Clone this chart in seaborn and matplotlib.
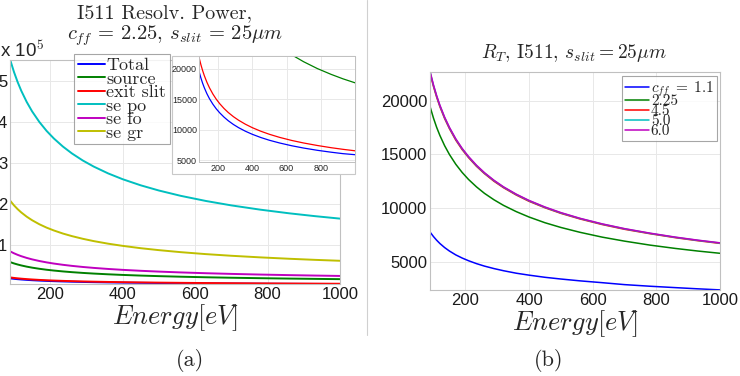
import numpy as np
import pandas as pd
import seaborn as sns
import matplotlib.pyplot as plt
from matplotlib.patches import Rectangle
from matplotlib.lines import Line2D

# Energy grid (eV) the curves were read at
energy = [90, 100, 110, 120, 135, 150, 170, 190, 210, 235, 260, 290, 320, 360, 400, 450, 500, 560, 630, 700, 780, 860, 930, 1000]

# (a) resolving power contributions, c_ff = 2.25
total     = [19500, 18500, 17640, 16890, 15920, 15100, 14190, 13420, 12770, 12070, 11470, 10860, 10340, 9750, 9250, 8720, 8270, 7820, 7370, 6990, 6620, 6310, 6070, 5900]
source    = [59000, 55970, 53370, 51090, 48170, 45700, 42930, 40600, 38630, 36520, 34710, 32870, 31290, 29500, 27980, 26380, 25030, 23650, 22300, 21160, 20040, 19090, 18350, 17700]
exit_slit = [21800, 20680, 19720, 18880, 17800, 16890, 15860, 15000, 14270, 13490, 12820, 12140, 11560, 10900, 10340, 9750, 9250, 8740, 8240, 7820, 7410, 7050, 6780, 6540]
se_po     = [550000, 521800, 497500, 476300, 449100, 426000, 400200, 378500, 360100, 340400, 323600, 306400, 291700, 275000, 260900, 246000, 233400, 220500, 207900, 197200, 186800, 177900, 171100, 165000]
se_fo     = [85000, 80640, 76880, 73610, 69400, 65840, 61850, 58500, 55650, 52610, 50010, 47350, 45080, 42500, 40320, 38010, 36070, 34080, 32130, 30480, 28870, 27500, 26440, 25500]
se_gr     = [208000, 197300, 188100, 180100, 169800, 161100, 151300, 143100, 136200, 128700, 122400, 115900, 110300, 104000, 98700, 93000, 88300, 83400, 78600, 74600, 70700, 67300, 64700, 62400]

# (b) total resolving power for several c_ff
r_11  = [7750, 7360, 7020, 6720, 6340, 6020, 5660, 5370, 5120, 4850, 4620, 4390, 4190, 3960, 3780, 3580, 3420, 3250, 3080, 2900, 2750, 2620, 2510, 2410]
r_225 = [19350, 18360, 17500, 16760, 15800, 14990, 14080, 13320, 12670, 11980, 11380, 10780, 10260, 9680, 9180, 8650, 8210, 7760, 7310, 6940, 6570, 6260, 6020, 5810]
r_45  = [22440, 21290, 20300, 19430, 18320, 17390, 16320, 15440, 14700, 13890, 13210, 12500, 11900, 11220, 10640, 10040, 9520, 9000, 8480, 8040, 7630, 7260, 6980, 6730]
r_50  = [22550, 21390, 20390, 19520, 18400, 17460, 16400, 15510, 14760, 13950, 13260, 12560, 11950, 11270, 10690, 10080, 9560, 9040, 8520, 8080, 7660, 7290, 7010, 6760]
r_60  = [22600, 21440, 20440, 19570, 18450, 17510, 16440, 15550, 14800, 13990, 13300, 12590, 11980, 11300, 10720, 10110, 9590, 9060, 8540, 8100, 7680, 7310, 7030, 6780]

labels_a = ["Total", "source", "exit slit", "se po", "se fo", "se gr"]
labels_b = [r"$c_{ff}\;=\;1.1$", "2.25", "4.5", "5.0", "6.0"]
cols = ["#0000ff", "#008000", "#ff0000", "#00bfbf", "#bf00bf", "#bfbf00"]

sns.set_style("whitegrid")
plt.rcParams["font.family"] = ["Liberation Sans", "DejaVu Sans"]
plt.rcParams["mathtext.fontset"] = "cm"
plt.rcParams["axes.edgecolor"] = "#c0c0c0"
plt.rcParams["grid.color"] = "#e8e8e8"
plt.rcParams["grid.linewidth"] = 0.7
CM = "cmr10"

fig = plt.figure(figsize=(7.4, 3.76), dpi=100)

def style(ax, size):
    ax.tick_params(direction="in", length=3, color="#a0a0a0", labelsize=size, pad=2, labelcolor="#1a1a1a")
    for s in ax.spines.values():
        s.set_linewidth(0.8)

# ---- (a) ----
ax1 = fig.add_axes([10/740, 1-284/376, 330/740, 224/376])
series_a = [total, source, exit_slit, se_po, se_fo, se_gr]
for vals, lab, c in zip(series_a, labels_a, cols):
    sns.lineplot(x=energy, y=np.array(vals)/1e5, color=c, lw=1.4, ax=ax1, label=lab)
ax1.set_xlim(89, 1000)
ax1.set_ylim(0.059, 5.51)
ax1.set_xticks([200, 400, 600, 800, 1000])
ax1.set_yticks([1, 2, 3, 4, 5])
style(ax1, 12)
ax1.set_xlabel(r"$Energy[eV]$", fontsize=19, labelpad=0)
ax1.legend_.remove()
leg = fig.legend(ax1.get_lines(), labels_a, loc="upper left", bbox_to_anchor=(74/740, 1-54/376),
                 prop={"family": CM, "size": 13}, handlelength=1.5, handletextpad=0.1,
                 labelspacing=-0.12, borderpad=0.2, borderaxespad=0, frameon=True, fancybox=False)
leg.get_frame().set_edgecolor("#909090")
leg.get_frame().set_linewidth(0.8)
fig.text(0, 1-57/376, r"x 10$^5$", fontsize=13.5, ha="left", va="baseline")
fig.text(165/740, 1-13/376, "I511 Resolv. Power,", family=CM, fontsize=14.5, ha="center", va="center")
fig.text(175/740, 1-36/376, r"$c_{ff}\,=\,2.25$, $s_{slit}\,=\,25\mu m$", family=CM, fontsize=14.8, ha="center", va="center")

# inset
fig.patches.append(Rectangle((172/740, 1-174/376), 183/740, 118/376, transform=fig.transFigure,
                             facecolor="white", edgecolor="#c8c8c8", lw=0.8, zorder=1))
axi = fig.add_axes([199/740, 1-162/376, 156/740, 106/376], zorder=2)
for vals, c in zip([total, source, exit_slit], cols[:3]):
    sns.lineplot(x=energy, y=vals, color=c, lw=0.9, ax=axi)
axi.set_xlim(89, 1000)
axi.set_ylim(4700, 22100)
axi.set_xticks([200, 400, 600, 800])
axi.set_yticks([5000, 10000, 15000, 20000])
axi.tick_params(direction="in", length=2, color="#a0a0a0", labelsize=6.5, pad=1.5)
for s in axi.spines.values():
    s.set_linewidth(0.7)

# ---- (b) ----
ax2 = fig.add_axes([430/740, 1-290/376, 290/740, 218/376])
series_b = [r_11, r_225, r_45, r_50, r_60]
for vals, lab, c in zip(series_b, labels_b, cols[:5]):
    sns.lineplot(x=energy, y=vals, color=c, lw=1.1, ax=ax2, label=lab)
ax2.set_xlim(89, 1000)
ax2.set_ylim(2400, 22650)
ax2.set_xticks([200, 400, 600, 800, 1000])
ax2.set_yticks([5000, 10000, 15000, 20000])
style(ax2, 12)
ax2.set_xlabel(r"$Energy[eV]$", fontsize=19, labelpad=0)
ax2.legend_.remove()
leg2 = ax2.legend(ax2.get_lines(), labels_b, loc="upper right", bbox_to_anchor=(717/740, 1-76/376),
                  bbox_transform=fig.transFigure, prop={"family": CM, "size": 11}, handlelength=1.6,
                  handletextpad=0.1, labelspacing=-0.25, borderpad=0.2, borderaxespad=0,
                  frameon=True, fancybox=False)
leg2.get_frame().set_edgecolor("#909090")
leg2.get_frame().set_linewidth(0.8)
fig.text(574/740, 1-53/376, r"$R_T$, I511, $s_{slit} = 25\mu m$", family=CM, fontsize=14, ha="center", va="center")

# captions and divider
fig.text(190/740, 1-360/376, "(a)", family=CM, fontsize=16, ha="center", va="center")
fig.text(549/740, 1-360/376, "(b)", family=CM, fontsize=16, ha="center", va="center")
fig.add_artist(Line2D([367/740, 367/740], [1-335/376, 1], transform=fig.transFigure, color="#d0d0d0", lw=0.8))

fig.savefig("out.png", dpi=100)
